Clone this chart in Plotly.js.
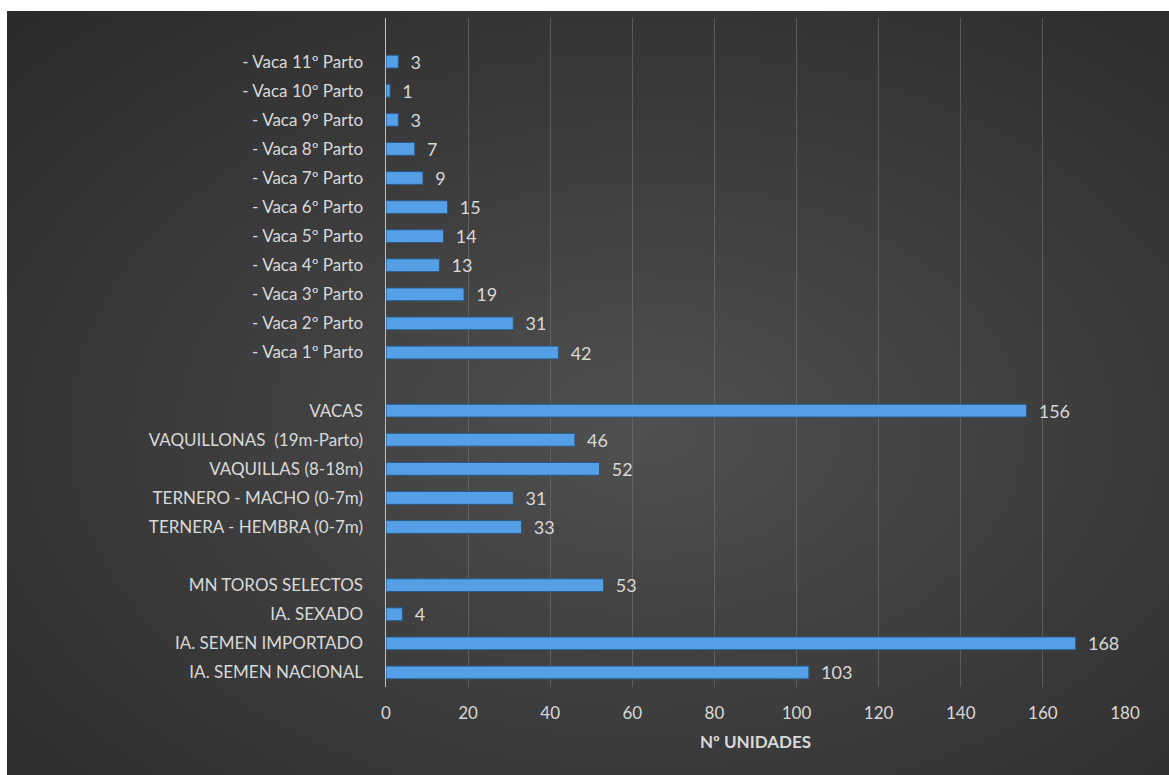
<!DOCTYPE html>
<html>
<head>
<meta charset="utf-8">
<script src="https://cdn.plot.ly/plotly-3.0.1.min.js"></script>
<style>
  html, body { margin: 0; padding: 0; background: #ffffff; }
  #bg {
    position: absolute; left: 7px; top: 11px; width: 1162px; height: 764px;
    background: radial-gradient(ellipse at 55% 55%, #505050 0%, #3e3e3e 45%, #2a2a2a 100%);
  }
  #chart { position: absolute; left: 0; top: 0; width: 1169px; height: 775px; }
</style>
</head>
<body>
<div id="bg"></div>
<div id="chart"></div>
<script>
// Categories from bottom to top; gap slots are blank labels with no value
const categories = [
  "IA. SEMEN NACIONAL",
  "IA. SEMEN IMPORTADO",
  "IA. SEXADO",
  "MN TOROS SELECTOS",
  " ",
  "TERNERA - HEMBRA (0-7m)",
  "TERNERO - MACHO (0-7m)",
  "VAQUILLAS (8-18m)",
  "VAQUILLONAS  (19m-Parto)",
  "VACAS",
  "  ",
  "- Vaca 1º Parto",
  "- Vaca 2º Parto",
  "- Vaca 3º Parto",
  "- Vaca 4º Parto",
  "- Vaca 5º Parto",
  "- Vaca 6º Parto",
  "- Vaca 7º Parto",
  "- Vaca 8º Parto",
  "- Vaca 9º Parto",
  "- Vaca 10º Parto",
  "- Vaca 11º Parto",
  "   "
];
const values = [103, 168, 4, 53, null, 33, 31, 52, 46, 156, null, 42, 31, 19, 13, 14, 15, 9, 7, 3, 1, 3, null];
const xTicks = [0, 20, 40, 60, 80, 100, 120, 140, 160, 180];
const xTitle = "Nº UNIDADES";

const labels = values.map(v => (v === null ? "" : "  " + v));

const trace = {
  type: "bar",
  orientation: "h",
  y: categories,
  x: values,
  text: labels,
  textposition: "outside",
  constraintext: "none",
  cliponaxis: false,
  textfont: { family: "Lato, 'Open Sans', sans-serif", size: 18, color: "#d9d9d9" },
  marker: { color: "#559fe6", line: { color: "#2b5a86", width: 1 } },
  hoverinfo: "x+y"
};

const layout = {
  width: 1169,
  height: 775,
  paper_bgcolor: "rgba(0,0,0,0)",
  plot_bgcolor: "rgba(0,0,0,0)",
  margin: { l: 386, r: 44, t: 18, b: 88, pad: 0 },
  bargap: 0.56,
  showlegend: false,
  font: { family: "Lato, 'Open Sans', sans-serif", color: "#d9d9d9", size: 17 },
  xaxis: {
    range: [0, 180],
    tickvals: xTicks,
    ticktext: xTicks.map(String),
    showgrid: true,
    gridcolor: "rgba(120,120,120,0.55)",
    gridwidth: 1,
    zeroline: false,
    showline: false,
    ticks: "",
    ticklabelstandoff: 14,
    tickfont: { size: 17, color: "#d9d9d9" },
    title: { text: xTitle, font: { size: 17, color: "#d9d9d9", weight: "bold" }, standoff: 14 }
  },
  yaxis: {
    type: "category",
    categoryorder: "array",
    categoryarray: categories,
    showgrid: false,
    zeroline: false,
    showline: true,
    linecolor: "#bfbfbf",
    linewidth: 1.5,
    ticks: "",
    ticklabelstandoff: 18,
    tickfont: { size: 17, color: "#d9d9d9" }
  }
};

Plotly.newPlot("chart", [trace], layout, { displayModeBar: false, staticPlot: true });
</script>
</body>
</html>
